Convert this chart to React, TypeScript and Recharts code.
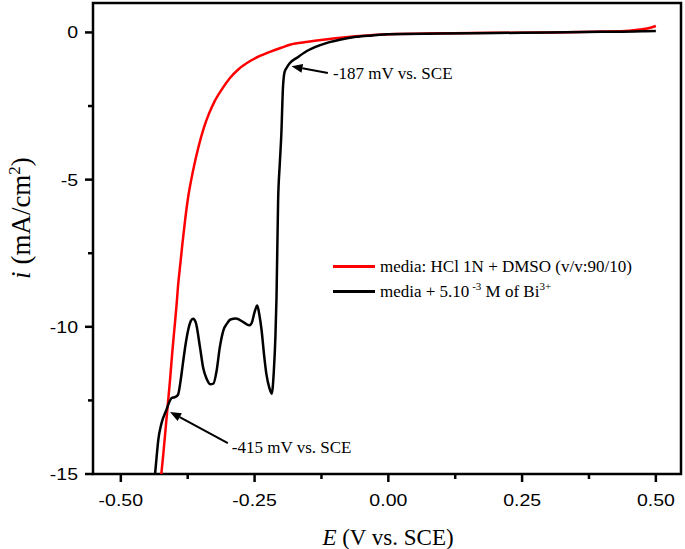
import React from 'react';
import { LineChart, Line, XAxis, YAxis, ReferenceArea, ReferenceLine, Legend, Label } from 'recharts';

// blank electrolyte (red)
const redE = [-0.426, -0.421, -0.416, -0.412, -0.408, -0.404, -0.4, -0.396, -0.393, -0.389, -0.385, -0.38, -0.375, -0.365, -0.355, -0.345, -0.335, -0.325, -0.31, -0.296, -0.28, -0.259, -0.24, -0.22, -0.2, -0.184, -0.15, -0.122, -0.08, -0.04, 0, 0.1, 0.2, 0.3, 0.4, 0.45, 0.47, 0.49, 0.5];
const redI = [-15.3, -14.4, -13.4, -12.6, -11.8, -10.9, -10.1, -9.3, -8.6, -7.9, -7.2, -6.4, -5.7, -4.7, -3.9, -3.25, -2.75, -2.35, -1.9, -1.55, -1.25, -0.98, -0.8, -0.65, -0.52, -0.42, -0.32, -0.25, -0.16, -0.1, -0.06, -0.03, -0.01, 0.0, 0.03, 0.06, 0.1, 0.16, 0.22];

// with Bi3+ (black)
const blackE = [-0.437, -0.433, -0.43, -0.424, -0.415, -0.405, -0.398, -0.393, -0.388, -0.384, -0.379, -0.374, -0.369, -0.365, -0.36, -0.352, -0.346, -0.34, -0.333, -0.327, -0.321, -0.315, -0.308, -0.302, -0.295, -0.285, -0.271, -0.26, -0.255, -0.25, -0.245, -0.241, -0.237, -0.232, -0.228, -0.222, -0.218, -0.214, -0.211, -0.209, -0.206, -0.203, -0.2, -0.197, -0.194, -0.19, -0.184, -0.17, -0.153, -0.13, -0.11, -0.091, -0.06, -0.03, 0, 0.1, 0.2, 0.3, 0.4, 0.46, 0.48, 0.5];
const blackI = [-15.2, -14.4, -13.85, -13.28, -12.83, -12.42, -12.38, -12.3, -11.8, -11.25, -10.6, -10.1, -9.8, -9.73, -9.85, -10.7, -11.4, -11.75, -11.95, -11.93, -11.5, -10.7, -10.1, -9.9, -9.75, -9.72, -9.84, -9.95, -9.85, -9.5, -9.28, -9.6, -10.1, -11.0, -11.6, -12.1, -12.27, -11.5, -10.3, -9.0, -5.7, -4.5, -3.46, -1.89, -1.35, -1.2, -1.04, -0.85, -0.64, -0.45, -0.33, -0.25, -0.15, -0.1, -0.06, -0.04, -0.02, 0.0, 0.02, 0.03, 0.04, 0.05];

const xTicks = [-0.5, -0.375, -0.25, -0.125, 0, 0.125, 0.25, 0.375, 0.5];
const yTicks = [0, -2.5, -5, -7.5, -10, -12.5, -15];
const xMajor = [-0.5, -0.25, 0, 0.25, 0.5];
const yMajor = [0, -5, -10, -15];

// arrows: [tailE, tailI, tipE, tipI]
const arrow187 = [-0.113, -1.38, -0.181, -1.15];
const arrow415 = [-0.3, -13.95, -0.408, -12.89];

const redData = redE.map((e, k) => ({ e, i: redI[k] }));
const blackData = blackE.map((e, k) => ({ e, i: blackI[k] }));

const W = 685;
const H = 549;
const PLOT_LEFT = 93;
const PLOT_BOTTOM = 474;
const serif = '"Liberation Serif", "Times New Roman", serif';
const sans = '"Liberation Sans", Arial, sans-serif';

const XTick = ({ x, payload }: any) => {
  const major = xMajor.some(v => Math.abs(v - payload.value) < 1e-6);
  return (
    <g>
      <line x1={x} x2={x} y1={PLOT_BOTTOM} y2={PLOT_BOTTOM + (major ? 8 : 5)} stroke="#000" strokeWidth={2.5} />
      {major && (
        <text transform={`translate(${x},506) scale(1.22,1)`} textAnchor="middle" fontFamily={sans} fontSize={16} fill="#000">
          {payload.value.toFixed(2)}
        </text>
      )}
    </g>
  );
};

const YTick = ({ y, payload }: any) => {
  const major = yMajor.includes(payload.value);
  return (
    <g>
      <line x1={PLOT_LEFT} x2={PLOT_LEFT - (major ? 8 : 5)} y1={y} y2={y} stroke="#000" strokeWidth={2.5} />
      {major && (
        <text transform={`translate(78,${y + 6}) scale(1.22,1)`} textAnchor="end" fontFamily={sans} fontSize={16} fill="#000">
          {payload.value}
        </text>
      )}
    </g>
  );
};

const arrowShape = (text: string, tx: number, ty: number) => (props: any) => {
  const { x1, y1, x2, y2 } = props;
  const dx = x2 - x1;
  const dy = y2 - y1;
  const len = Math.sqrt(dx * dx + dy * dy);
  const ux = dx / len;
  const uy = dy / len;
  const hl = 11;
  const hw = 4.5;
  const bx = x2 - ux * hl;
  const by = y2 - uy * hl;
  return (
    <g>
      <line x1={x1} y1={y1} x2={bx} y2={by} stroke="#000" strokeWidth={2} />
      <polygon
        points={`${x2},${y2} ${bx - uy * hw},${by + ux * hw} ${bx + uy * hw},${by - ux * hw}`}
        fill="#000"
      />
      <text x={x1 + tx} y={y1 + ty} fontFamily={serif} fontSize={17} fill="#000">{text}</text>
    </g>
  );
};

const renderLegend = () => (
  <div style={{ fontFamily: serif, fontSize: 17, color: '#000', lineHeight: '25px' }}>
    <div style={{ display: 'flex', alignItems: 'center' }}>
      <span style={{ display: 'inline-block', width: 42, height: 3, background: '#ff0000', marginRight: 5 }} />
      <span>media: HCl 1N + DMSO (v/v:90/10)</span>
    </div>
    <div style={{ display: 'flex', alignItems: 'center' }}>
      <span style={{ display: 'inline-block', width: 42, height: 3, background: '#000', marginRight: 5 }} />
      <span>
        media + 5.10<sup style={{ fontSize: 11, lineHeight: 0 }}> -3</sup> M of Bi<sup style={{ fontSize: 11, lineHeight: 0 }}>3+</sup>
      </span>
    </div>
  </div>
);

export default function App() {
  return (
    <div style={{ position: 'absolute', left: 0, top: 0, width: W, height: H, background: '#fff' }}>
      <LineChart width={W} height={H} margin={{ top: 3, right: 4, left: 0, bottom: 0 }}>
        <XAxis
          type="number"
          dataKey="e"
          domain={[-0.552, 0.547]}
          ticks={xTicks}
          interval={0}
          height={75}
          axisLine={false}
          tickLine={false}
          tick={<XTick />}
          allowDataOverflow
        >
          <Label
            content={() => (
              <text x={388} y={545} textAnchor="middle" fontFamily={serif} fontSize={23} fill="#000">
                <tspan fontStyle="italic">E</tspan> (V vs. SCE)
              </text>
            )}
          />
        </XAxis>
        <YAxis
          type="number"
          dataKey="i"
          domain={[-15, 1]}
          ticks={yTicks}
          interval={0}
          width={93}
          axisLine={false}
          tickLine={false}
          tick={<YTick />}
          allowDataOverflow
        >
          <Label
            content={() => (
              <text transform="translate(30,218) rotate(-90)" textAnchor="middle" fontFamily={serif} fontSize={27} fill="#000">
                <tspan fontStyle="italic">i</tspan> (mA/cm
                <tspan dy={-10} fontSize={17}>2</tspan>
                <tspan dy={10}>)</tspan>
              </text>
            )}
          />
        </YAxis>
        <Legend
          layout="vertical"
          align="center"
          verticalAlign="middle"
          content={renderLegend}
          wrapperStyle={{ left: 333, top: 254, width: 330 }}
        />
        <Line data={redData} dataKey="i" name="blank" type="monotone" stroke="#ff0000" strokeWidth={2.5} dot={false} isAnimationActive={false} />
        <Line data={blackData} dataKey="i" name="bi" type="monotone" stroke="#000" strokeWidth={2.5} dot={false} isAnimationActive={false} />
        <ReferenceLine
          segment={[{ x: arrow187[0], y: arrow187[1] }, { x: arrow187[2], y: arrow187[3] }]}
          shape={arrowShape('-187 mV vs. SCE', 5, 6)}
        />
        <ReferenceLine
          segment={[{ x: arrow415[0], y: arrow415[1] }, { x: arrow415[2], y: arrow415[3] }]}
          shape={arrowShape('-415 mV vs. SCE', 4, 10)}
        />
        <ReferenceArea x1={-0.552} x2={0.547} y1={-15} y2={1} fill="none" stroke="#000" strokeWidth={2.5} ifOverflow="visible" />
      </LineChart>
    </div>
  );
}
